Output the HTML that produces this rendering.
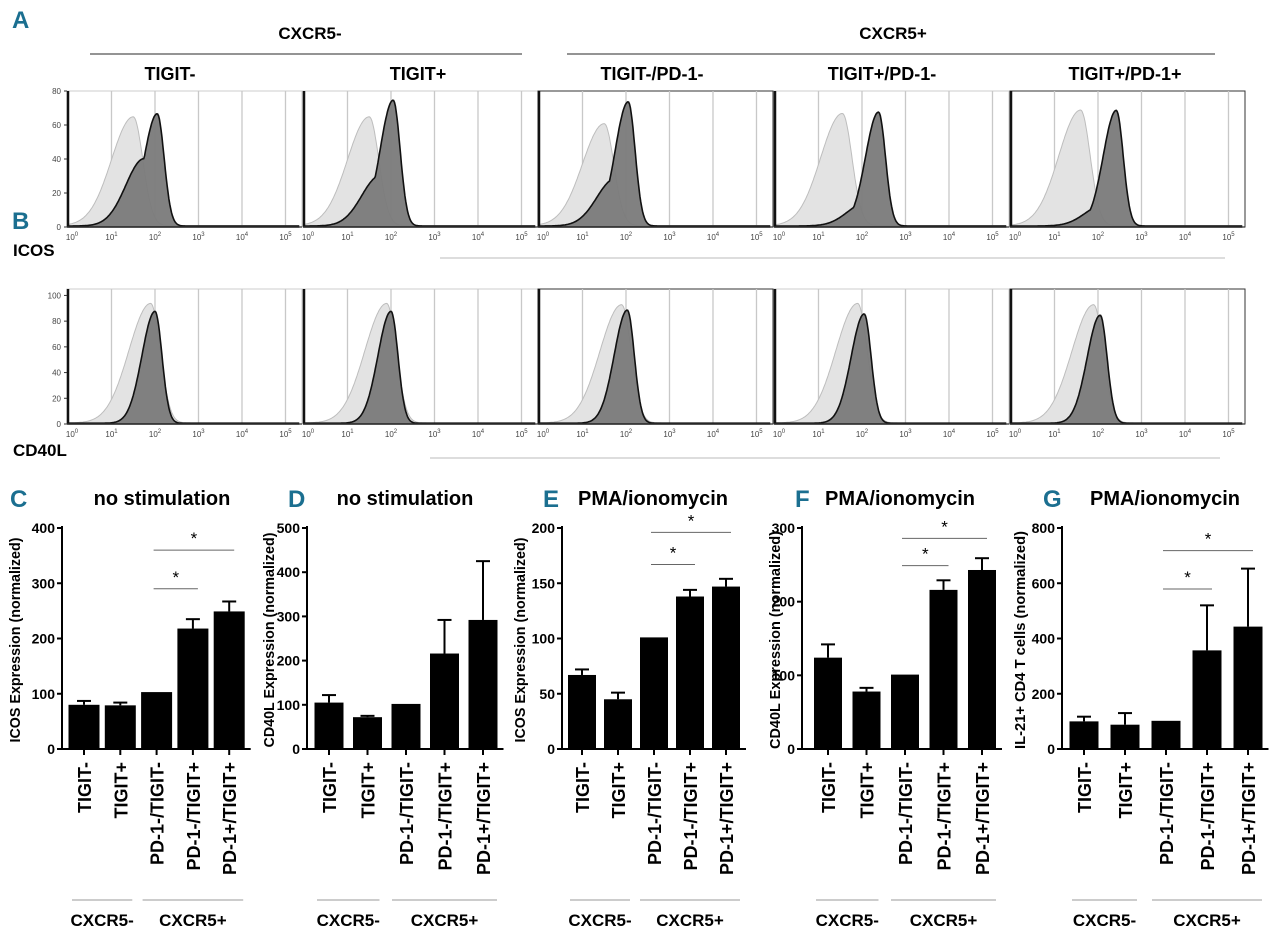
<!DOCTYPE html>
<html><head><meta charset="utf-8">
<style>
html,body{margin:0;padding:0;background:#fff;}
svg{display:block;font-family:"Liberation Sans",sans-serif;}
.b{font-weight:bold;}
.teal{fill:#1b6f90;font-weight:bold;}
</style></head>
<body>
<svg id="fig" width="1280" height="943" viewBox="0 0 1280 943" xmlns="http://www.w3.org/2000/svg">
<g id="hdr">
<text x="12" y="28" class="teal" font-size="24">A</text>
<text x="310" y="39" text-anchor="middle" class="b" font-size="17">CXCR5-</text>
<line x1="90" y1="54" x2="522" y2="54" stroke="#555" stroke-width="1.2"/>
<text x="893" y="39" text-anchor="middle" class="b" font-size="17">CXCR5+</text>
<line x1="567" y1="54" x2="1215" y2="54" stroke="#555" stroke-width="1.2"/>
<text x="170" y="80" text-anchor="middle" class="b" font-size="18">TIGIT-</text>
<text x="418" y="80" text-anchor="middle" class="b" font-size="18">TIGIT+</text>
<text x="652" y="80" text-anchor="middle" class="b" font-size="18">TIGIT-/PD-1-</text>
<text x="882" y="80" text-anchor="middle" class="b" font-size="18">TIGIT+/PD-1-</text>
<text x="1125" y="80" text-anchor="middle" class="b" font-size="18">TIGIT+/PD-1+</text>
<text x="13" y="256" class="b" font-size="17">ICOS</text>
<line x1="440" y1="258" x2="1225" y2="258" stroke="#bbb" stroke-width="1"/>
<text x="12" y="229" class="teal" font-size="24">B</text>
<text x="13" y="456" class="b" font-size="17">CD40L</text>
<line x1="430" y1="458" x2="1220" y2="458" stroke="#bbb" stroke-width="1"/>
</g>
<g id="hists"></g>
<g id="bars"></g>
</svg>
<script>
// ===== Histogram data (peak log10 position, height %) =====
const panelLefts = [67, 303, 538, 774, 1010];
const rowAyTicks = [0, 20, 40, 60, 80];
const rowByTicks = [0, 20, 40, 60, 80, 100];
const decadeLabels = ["0","1","2","3","4","5"];
const icosCtrlPos = [1.5, 1.5, 1.5, 1.55, 1.6];
const icosCtrlH = [64, 64, 60, 66, 68];
const icosDarkPos = [2.05, 2.05, 2.05, 2.38, 2.42];
const icosDarkH = [66, 74, 73, 67, 68];
const icosDarkShoulder = [60, 40, 38, 20, 18];
const cdCtrlPos = [1.9, 1.9, 1.9, 1.9, 1.9];
const cdCtrlH = [93, 93, 92, 93, 92];
const cdDarkPos = [2.0, 2.0, 2.03, 2.05, 2.05];
const cdDarkH = [87, 87, 88, 85, 84];

const NS = "http://www.w3.org/2000/svg";
function mk(tag, attrs, parent){const e=document.createElementNS(NS,tag);for(const k in attrs)e.setAttribute(k,attrs[k]);parent.appendChild(e);return e;}
const H = document.getElementById('hists');
const DEC = 43.5;
function dens(x,c,h,sl,sr){const s=x<c?sl:sr;return h*Math.exp(-0.5*((x-c)/s)**2);}
function drawRow(top, base, ymax, yTicks, ctrlPos, ctrlH, darkPos, darkH, shoulder, rowName){
  const sy=v=>base-(base-top)*v/ymax;
  panelLefts.forEach((L,i)=>{
    const g=mk('g',{},H);
    
    
    const xL=v=>L+1+v*DEC;
    mk('rect',{x:L,y:top,width:235,height:base-top,fill:'#fff',stroke:(i==2||i==4)?'#333':'#ccc','stroke-width':1},g);
    for(let d=1;d<=5;d++) mk('line',{x1:xL(d),y1:top,x2:xL(d),y2:base,stroke:'#c8c8c8','stroke-width':1.3},g);
    function path(fn){let p='M'+xL(0)+','+base;for(let x=0;x<=5.3;x+=0.02){p+=' L'+xL(x).toFixed(1)+','+sy(Math.max(0,fn(x))).toFixed(1);}return p+' L'+xL(5.3)+','+base+' Z';}
    const cf=x=>dens(x,ctrlPos[i],ctrlH[i],0.5,0.22)+0.8;
    const df=x=>{const sh=shoulder?dens(x,darkPos[i]-0.3,darkH[i]*shoulder[i]/100,0.42,0.12):0;return Math.max(dens(x,darkPos[i],darkH[i],0.3,0.16),sh)+0.6;};
    const c=mk('path',{d:path(cf),fill:'#e3e3e3',stroke:'#bdbdbd','stroke-width':1},g);
     
    const dk=mk('path',{d:path(df),fill:'#7a7a7a','fill-opacity':0.95,stroke:'#111','stroke-width':1.6},g);
     
    mk('line',{x1:L+1,y1:top,x2:L+1,y2:base,stroke:'#111','stroke-width':2.5},g);
    mk('line',{x1:L,y1:base,x2:L+235,y2:base,stroke:'#333','stroke-width':1.2},g);
    decadeLabels.forEach((t,d)=>{
      const tx=mk('text',{x:xL(d)+ (d==0?4:0),y:base+13,'font-size':8,'text-anchor':'middle',fill:'#444'},g);
      tx.textContent='10'; const ts=mk('tspan',{dy:-4,'font-size':6},tx); ts.textContent=t;
    });
    if(i==0){
      yTicks.forEach(v=>{const t=mk('text',{x:L-6,y:sy(v)+3,'font-size':8,'text-anchor':'end',fill:'#444'},g);t.textContent=v;
        mk('line',{x1:L-3,y1:sy(v),x2:L,y2:sy(v),stroke:'#333'},g);});
    }
  });
}
drawRow(91, 227, 80, rowAyTicks, icosCtrlPos, icosCtrlH, icosDarkPos, icosDarkH, icosDarkShoulder, 'icos');
drawRow(289, 424, 105, rowByTicks, cdCtrlPos, cdCtrlH, cdDarkPos, cdDarkH, null, 'cd40l');

// ===== Bar chart data =====
const categories = ["TIGIT-","TIGIT+","PD-1-/TIGIT-","PD-1-/TIGIT+","PD-1+/TIGIT+"];
const cValues = [80, 79, 103, 218, 249];
const cErrors = [7, 5, 0, 17, 18];
const dValues = [105, 72, 102, 216, 292];
const dErrors = [17, 3, 0, 76, 133];
const eValues = [67, 45, 101, 138, 147];
const eErrors = [5, 6, 0, 6, 7];
const fValues = [124, 78, 101, 216, 243];
const fErrors = [18, 5, 0, 13, 16];
const gValues = [100, 88, 102, 357, 443];
const gErrors = [17, 42, 0, 163, 210];
const cTicks = [0,100,200,300,400];
const dTicks = [0,100,200,300,400,500];
const eTicks = [0,50,100,150,200];
const fTicks = [0,100,200,300];
const gTicks = [0,200,400,600,800];
const cSig = [[2,3,290],[2,4,360]];
const eSig = [[2,3,167],[2,4,196]];
const fSig = [[2,3,249],[2,4,286]];
const gSig = [[2,3,579],[2,4,718]];

const B=document.getElementById('bars');
const panels=[
 {id:'c',letter:'C',lx:10,title:'no stimulation',tx:162,ax:62,c0:84,step:36.3,w:31,max:400,vals:cValues,errs:cErrors,ticks:cTicks,sig:cSig,ytitle:'ICOS Expression (normalized)',ytx:20,yl:205},
 {id:'d',letter:'D',lx:288,title:'no stimulation',tx:405,ax:307,c0:329,step:38.5,w:29,max:500,vals:dValues,errs:dErrors,ticks:dTicks,sig:[],ytitle:'CD40L Expression (normalized)',ytx:274,yl:215},
 {id:'e',letter:'E',lx:543,title:'PMA/ionomycin',tx:653,ax:562,c0:582,step:36,w:28,max:200,vals:eValues,errs:eErrors,ticks:eTicks,sig:eSig,ytitle:'ICOS Expression (normalized)',ytx:525,yl:205},
 {id:'f',letter:'F',lx:795,title:'PMA/ionomycin',tx:900,ax:802,c0:828,step:38.5,w:28,max:300,vals:fValues,errs:fErrors,ticks:fTicks,sig:fSig,ytitle:'CD40L Expression (normalized)',ytx:780,yl:218},
 {id:'g',letter:'G',lx:1043,title:'PMA/ionomycin',tx:1165,ax:1062,c0:1084,step:41,w:29,max:800,vals:gValues,errs:gErrors,ticks:gTicks,sig:gSig,ytitle:'IL-21+ CD4 T cells (normalized)',ytx:1025,yl:218}
];
const TOP=528, BASE=749;
panels.forEach(p=>{
  const g=mk('g',{},B);
  
  
  const sy=v=>BASE-(BASE-TOP)*v/p.max;
  const sx=i=>p.c0+i*p.step;
  const L=mk('text',{x:p.lx,y:507,'font-size':24,class:'teal'},g);L.textContent=p.letter;
   
  const T=mk('text',{x:p.tx,y:505,'font-size':20,class:'b','text-anchor':'middle'},g);T.textContent=p.title;
   
  const yt=mk('text',{x:0,y:0,'font-size':15,class:'b','text-anchor':'middle',textLength:p.yl,lengthAdjust:'spacingAndGlyphs',transform:`translate(${p.ytx},640) rotate(-90)`},g);yt.textContent=p.ytitle;
   
  const xEnd=sx(4)+p.w/2+6;
  mk('line',{x1:p.ax,y1:TOP-2,x2:p.ax,y2:BASE,stroke:'#000','stroke-width':2},g);
  mk('line',{x1:p.ax-5,y1:BASE,x2:xEnd,y2:BASE,stroke:'#000','stroke-width':2},g);
  p.ticks.forEach(v=>{mk('line',{x1:p.ax-5,y1:sy(v),x2:p.ax,y2:sy(v),stroke:'#000','stroke-width':2},g);
    const t=mk('text',{x:p.ax-7,y:sy(v)+5,'font-size':14,class:'b','text-anchor':'end'},g);t.textContent=v;});
  p.vals.forEach((v,i)=>{
    const e=p.errs[i];
    if(e>0){mk('line',{x1:sx(i),y1:sy(v),x2:sx(i),y2:sy(v+e),stroke:'#000','stroke-width':2},g);
      mk('line',{x1:sx(i)-7,y1:sy(v+e),x2:sx(i)+7,y2:sy(v+e),stroke:'#000','stroke-width':2},g);}
    const r=mk('rect',{x:sx(i)-p.w/2,y:sy(v),width:p.w,height:BASE-sy(v),fill:'#000'},g);
    
    
    mk('line',{x1:sx(i),y1:BASE,x2:sx(i),y2:BASE+6,stroke:'#000','stroke-width':2},g);
    const lb=mk('text',{x:0,y:0,'font-size':18,class:'b','text-anchor':'end',transform:`translate(${sx(i)+7},${BASE+13}) rotate(-90)`},g);
    lb.textContent=categories[i];
    
    
  });
  p.sig.forEach(s=>{
    const x1=sx(s[0])-3,x2=sx(s[1])+5;
    mk('line',{x1:x1,y1:sy(s[2]),x2:x2,y2:sy(s[2]),stroke:'#666','stroke-width':1},g);
    const st=mk('text',{x:(x1+x2)/2,y:sy(s[2])-6,'font-size':17,'text-anchor':'middle'},g);st.textContent='*';
    
    
  });
  const g1=(sx(0)+sx(1))/2, g2=sx(3);
  mk('line',{x1:sx(0)-12,y1:900,x2:sx(1)+12,y2:900,stroke:'#999','stroke-width':1},g);
  mk('line',{x1:sx(2)-14,y1:900,x2:sx(4)+14,y2:900,stroke:'#999','stroke-width':1},g);
  const a=mk('text',{x:g1,y:926,'font-size':17,class:'b','text-anchor':'middle'},g);a.textContent='CXCR5-';
   
  const b2=mk('text',{x:g2,y:926,'font-size':17,class:'b','text-anchor':'middle'},g);b2.textContent='CXCR5+';
   
});
</script>
</body></html>
